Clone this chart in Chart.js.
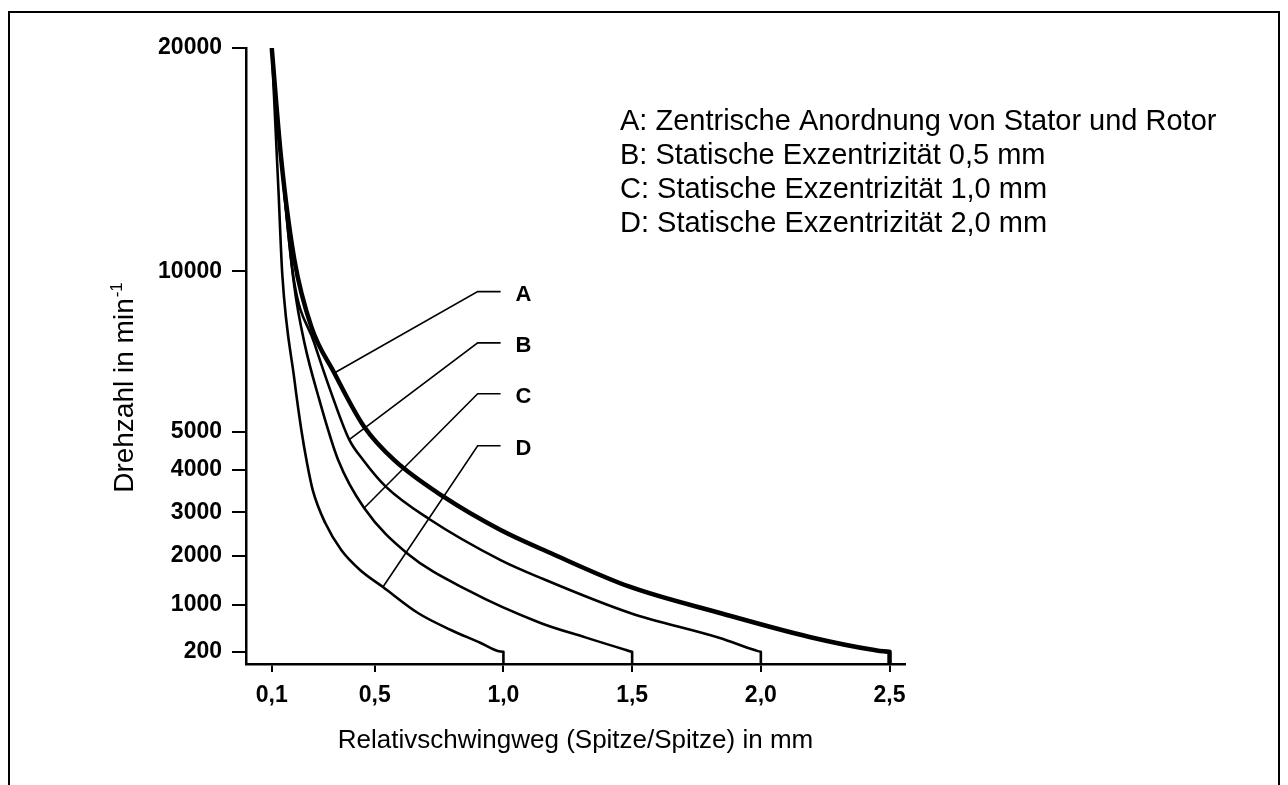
<!DOCTYPE html>
<html>
<head>
<meta charset="utf-8">
<script src="https://cdn.jsdelivr.net/npm/chart.js@4.4.1/dist/chart.umd.min.js"></script>
<style>
  html, body { margin: 0; padding: 0; background: #fff; }
  #wrap { width: 1288px; height: 785px; }
</style>
</head>
<body>
<div id="wrap"><canvas id="chart" width="1288" height="785"></canvas></div>
<script>
// Achsen
const xTickValues = [0.1, 0.5, 1.0, 1.5, 2.0, 2.5];
const xTickLabels = ['0,1', '0,5', '1,0', '1,5', '2,0', '2,5'];
const yTickValues = [200, 1000, 2000, 3000, 4000, 5000, 10000, 20000];
const yTickLabels = ['200', '1000', '2000', '3000', '4000', '5000', '10000', '20000'];

// nichtlineare Drehzahlachse: Stützstellen und deren Anteil an der Achshöhe
const yAxisBreaks = [0, 200, 1000, 2000, 3000, 4000, 5000, 10000, 20000];
const yAxisShares = [0, 0.020, 0.0958, 0.1759, 0.2464, 0.3151, 0.3773, 0.6372, 1];

// Kurven (Relativschwingweg in mm, Drehzahl in min-1)
const curveA_x = [0.1, 0.137, 0.188, 0.254, 0.343, 0.459, 0.575, 0.769, 0.989, 1.183, 1.493, 1.841, 2.189, 2.441, 2.5, 2.5];
const curveA_rpm = [20000, 15000, 10520, 8270, 6830, 5150, 4260, 3360, 2590, 2060, 1365, 863, 452, 228, 200, 0];

const curveB_x = [0.1, 0.137, 0.184, 0.265, 0.331, 0.401, 0.455, 0.544, 0.710, 0.989, 1.144, 1.492, 1.841, 1.976, 2.0, 2.0];
const curveB_rpm = [20000, 15000, 9830, 7770, 6210, 4790, 4260, 3600, 2850, 1910, 1550, 863, 435, 229, 200, 0];

const curveC_x = [0.1, 0.137, 0.188, 0.227, 0.285, 0.358, 0.459, 0.629, 0.861, 1.144, 1.318, 1.473, 1.5, 1.5];
const curveC_rpm = [20000, 15000, 9520, 7770, 5990, 4260, 3100, 2040, 1300, 692, 445, 234, 200, 0];

const curveD_x = [0.1, 0.126, 0.141, 0.188, 0.215, 0.237, 0.259, 0.308, 0.370, 0.443, 0.532, 0.668, 0.796, 0.912, 0.978, 1.0, 1.0];
const curveD_rpm = [20000, 13660, 9900, 6620, 5050, 4180, 3530, 2750, 2130, 1710, 1365, 863, 572, 349, 212, 200, 0];

// Bezugslinien zu den Kennbuchstaben
const curveNames = ['A', 'B', 'C', 'D'];
const leaderA_x = [0.343, 0.900, 0.989];
const leaderA_rpm = [6830, 9370, 9370];
const leaderB_x = [0.401, 0.900, 0.989];
const leaderB_rpm = [4790, 7770, 7770];
const leaderC_x = [0.459, 0.900, 0.989];
const leaderC_rpm = [3100, 6180, 6180];
const leaderD_x = [0.532, 0.900, 0.989];
const leaderD_rpm = [1365, 4630, 4630];

const legendLines = [
    'A: Zentrische Anordnung von Stator und Rotor',
    'B: Statische Exzentrizität 0,5 mm',
    'C: Statische Exzentrizität 1,0 mm',
    'D: Statische Exzentrizität 2,0 mm'
];

const xTitle = 'Relativschwingweg (Spitze/Spitze) in mm';
const yTitle = 'Drehzahl in min';
const yTitleSup = '-1';

function toPoints(xs, ys) {
    return xs.map((x, i) => ({ x: x, y: ys[i] }));
}

function rpmToShare(v) {
    if (v <= yAxisBreaks[0]) return yAxisShares[0];
    for (let i = 1; i < yAxisBreaks.length; i++) {
        if (v <= yAxisBreaks[i]) {
            const t = (v - yAxisBreaks[i - 1]) / (yAxisBreaks[i] - yAxisBreaks[i - 1]);
            return yAxisShares[i - 1] + t * (yAxisShares[i] - yAxisShares[i - 1]);
        }
    }
    return yAxisShares[yAxisShares.length - 1];
}

function shareToRpm(s) {
    for (let i = 1; i < yAxisShares.length; i++) {
        if (s <= yAxisShares[i]) {
            const t = (s - yAxisShares[i - 1]) / (yAxisShares[i] - yAxisShares[i - 1]);
            return yAxisBreaks[i - 1] + t * (yAxisBreaks[i] - yAxisBreaks[i - 1]);
        }
    }
    return yAxisBreaks[yAxisBreaks.length - 1];
}

class PiecewiseScale extends Chart.LinearScale {
    getPixelForValue(value) {
        return this.getPixelForDecimal(rpmToShare(value));
    }
    getValueForPixel(pixel) {
        return shareToRpm(this.getDecimalForPixel(pixel));
    }
}
PiecewiseScale.id = 'piecewise';
PiecewiseScale.defaults = Chart.LinearScale.defaults;
Chart.register(PiecewiseScale);

const tickFont = { family: '"Liberation Sans", Arial, sans-serif', size: 23, weight: 'bold' };
const textFont = '"Liberation Sans", Arial, sans-serif';

const framePlugin = {
    id: 'frame',
    beforeDraw(chart) {
        const ctx = chart.ctx;
        ctx.save();
        ctx.fillStyle = '#fff';
        ctx.fillRect(0, 0, chart.width, chart.height);
        ctx.strokeStyle = '#000';
        ctx.lineWidth = 2;
        ctx.beginPath();
        ctx.moveTo(9, chart.height);
        ctx.lineTo(9, 12);
        ctx.lineTo(1279, 12);
        ctx.lineTo(1279, chart.height);
        ctx.stroke();
        ctx.restore();
    }
};

const textPlugin = {
    id: 'texts',
    afterDatasetsDraw(chart) {
        const ctx = chart.ctx;
        const xs = chart.scales.x;
        const ys = chart.scales.y;
        ctx.save();
        ctx.fillStyle = '#000';

        // Kennbuchstaben am Ende der Bezugslinien
        const leaders = [[leaderA_x, leaderA_rpm], [leaderB_x, leaderB_rpm], [leaderC_x, leaderC_rpm], [leaderD_x, leaderD_rpm]];
        ctx.font = 'bold 22px ' + textFont;
        ctx.textAlign = 'left';
        ctx.textBaseline = 'middle';
        leaders.forEach((l, i) => {
            const px = xs.getPixelForValue(l[0][2]);
            const py = ys.getPixelForValue(l[1][2]);
            ctx.fillText(curveNames[i], px + 15, py + 3);
        });

        // Legende
        ctx.font = '29px ' + textFont;
        ctx.textBaseline = 'alphabetic';
        legendLines.forEach((t, i) => {
            ctx.fillText(t, 620, 130 + i * 34);
        });

        // x-Achsentitel
        ctx.font = '26px ' + textFont;
        ctx.textAlign = 'center';
        ctx.fillText(xTitle, (chart.chartArea.left + chart.chartArea.right) / 2, 748);

        // y-Achsentitel mit Hochzahl
        ctx.translate(133, 388);
        ctx.rotate(-Math.PI / 2);
        ctx.font = '28px ' + textFont;
        const w1 = ctx.measureText(yTitle).width;
        ctx.font = '17px ' + textFont;
        const w2 = ctx.measureText(yTitleSup).width;
        const start = -(w1 + w2) / 2;
        ctx.textAlign = 'left';
        ctx.font = '28px ' + textFont;
        ctx.fillText(yTitle, start, 0);
        ctx.font = '17px ' + textFont;
        ctx.fillText(yTitleSup, start + w1 + 1, -11);
        ctx.restore();
    }
};

function curveDataset(xs, ys, width) {
    return {
        data: toPoints(xs, ys),
        borderColor: '#000',
        borderWidth: width,
        pointRadius: 0,
        fill: false,
        cubicInterpolationMode: 'monotone',
        borderJoinStyle: 'round'
    };
}

function leaderDataset(xs, ys) {
    return {
        data: toPoints(xs, ys),
        borderColor: '#000',
        borderWidth: 1.6,
        pointRadius: 0,
        fill: false,
        tension: 0
    };
}

const ctx = document.getElementById('chart').getContext('2d');
new Chart(ctx, {
    type: 'line',
    data: {
        datasets: [
            curveDataset(curveA_x, curveA_rpm, 4.5),
            curveDataset(curveB_x, curveB_rpm, 2.6),
            curveDataset(curveC_x, curveC_rpm, 2.6),
            curveDataset(curveD_x, curveD_rpm, 2.6),
            leaderDataset(leaderA_x, leaderA_rpm),
            leaderDataset(leaderB_x, leaderB_rpm),
            leaderDataset(leaderC_x, leaderC_rpm),
            leaderDataset(leaderD_x, leaderD_rpm)
        ]
    },
    options: {
        responsive: false,
        animation: false,
        layout: { padding: { left: 0, right: 383, top: 48, bottom: 0 } },
        plugins: { legend: { display: false }, tooltip: { enabled: false } },
        scales: {
            x: {
                type: 'linear',
                min: 0,
                max: 2.56,
                afterFit: s => { s.height = 121; },
                afterBuildTicks: s => { s.ticks = xTickValues.map(v => ({ value: v })); },
                ticks: {
                    callback: (v, i) => xTickLabels[i],
                    font: tickFont,
                    color: '#000',
                    padding: 10,
                    maxRotation: 0,
                    autoSkip: false
                },
                grid: { drawOnChartArea: false, drawTicks: true, tickLength: 8, color: '#000', lineWidth: 2 },
                border: { display: true, color: '#000', width: 2.5 }
            },
            y: {
                type: 'piecewise',
                min: 0,
                max: 20000,
                afterFit: s => { s.width = 246; },
                afterBuildTicks: s => { s.ticks = yTickValues.map(v => ({ value: v })); },
                ticks: {
                    callback: (v, i) => yTickLabels[i],
                    font: tickFont,
                    color: '#000',
                    padding: 10,
                    autoSkip: false
                },
                grid: { drawOnChartArea: false, drawTicks: true, tickLength: 14, color: '#000', lineWidth: 2 },
                border: { display: true, color: '#000', width: 2.5 }
            }
        }
    },
    plugins: [framePlugin, textPlugin]
});
</script>
</body>
</html>
